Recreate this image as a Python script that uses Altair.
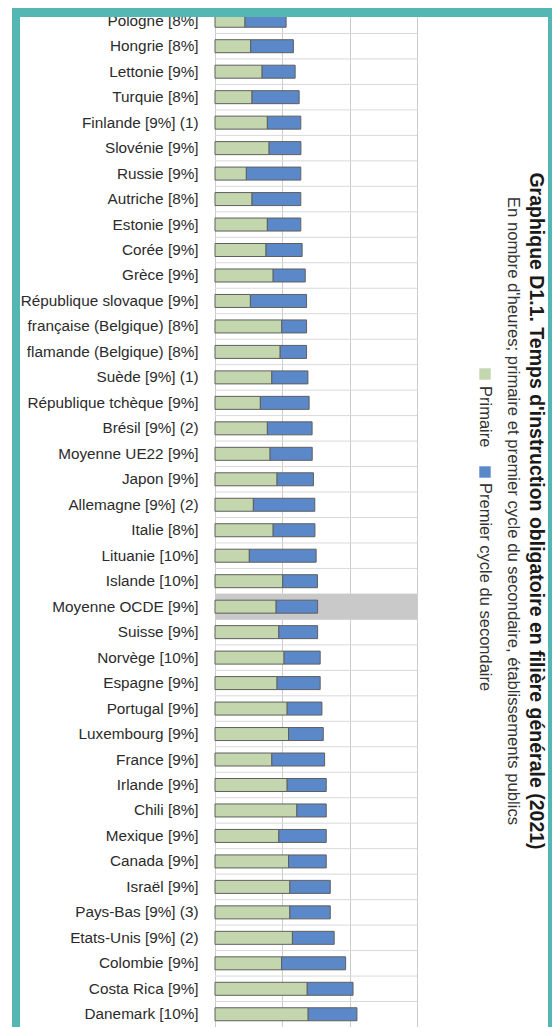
import altair as alt
import pandas as pd

pays = ["Pologne [8%]", "Hongrie [8%]", "Lettonie [9%]", "Turquie [8%]", "Finlande [9%] (1)",
        "Slovénie [9%]", "Russie [9%]", "Autriche [8%]", "Estonie [9%]", "Corée [9%]",
        "Grèce [9%]", "République slovaque [9%]", "française (Belgique) [8%]",
        "flamande (Belgique) [8%]", "Suède [9%] (1)", "République tchèque [9%]",
        "Brésil [9%] (2)", "Moyenne UE22 [9%]", "Japon [9%]", "Allemagne [9%] (2)",
        "Italie [8%]", "Lituanie [10%]", "Islande [10%]", "Moyenne OCDE [9%]", "Suisse [9%]",
        "Norvège [10%]", "Espagne [9%]", "Portugal [9%]", "Luxembourg [9%]", "France [9%]",
        "Irlande [9%]", "Chili [8%]", "Mexique [9%]", "Canada [9%]", "Israël [9%]",
        "Pays-Bas [9%] (3)", "Etats-Unis [9%] (2)", "Colombie [9%]", "Costa Rica [9%]",
        "Danemark [10%]"]

primaire = [2230, 2650, 3500, 2750, 3890, 4020, 2330, 2750, 3890, 3790,
            4320, 2630, 4960, 4840, 4220, 3370, 3890, 4090, 4610, 2850,
            4320, 2550, 5030, 4540, 4740, 5130, 4610, 5360, 5460, 4220,
            5360, 6080, 4740, 5460, 5560, 5560, 5750, 4940, 6850, 6920]

secondaire = [3050, 3170, 2450, 3500, 2480, 2360, 4040, 3620, 2480, 2680,
              2380, 4170, 1840, 1960, 2680, 3620, 3320, 3130, 2700, 4560,
              3100, 4960, 2580, 3080, 2880, 2680, 3200, 2580, 2580, 3920,
              2900, 2180, 3520, 2800, 3000, 3000, 3100, 4760, 3400, 3620]

niveaux = ["Primaire", "Premier cycle du secondaire"]
couleurs = ["#c3d6ae", "#5b88c8"]
x_ticks = [0, 5000, 10000, 15000]
highlight = ["Moyenne OCDE [9%]"]

TITLE = "Graphique D1.1. Temps d'instruction obligatoire en filière générale (2021)"
SUBTITLE = "En nombre d'heures; primaire et premier cycle du secondaire, établissements publics"

rows = []
for p, a, b in zip(pays, primaire, secondaire):
    rows.append({"pays": p, "niveau": niveaux[0], "heures": a, "ordre": 0})
    rows.append({"pays": p, "niveau": niveaux[1], "heures": b, "ordre": 1})
df = pd.DataFrame(rows)

W, H = 202, 1019
FONT = "Liberation Sans"
TEAL = "#55b7b3"

yscale = alt.Scale(paddingInner=0, paddingOuter=0)
xscale = alt.Scale(domain=[x_ticks[0], x_ticks[-1]], nice=False)

sep = alt.Chart(pd.DataFrame({"pays": pays})).mark_rule(color="#d9d9d9", strokeWidth=1).encode(
    y=alt.Y("pays:N", sort=pays, bandPosition=0, scale=yscale),
    x=alt.datum(x_ticks[0]),
    x2=alt.datum(x_ticks[-1]),
)

hl = alt.Chart(pd.DataFrame({"pays": highlight})).mark_rect(color="#c9c9c9").encode(
    y=alt.Y("pays:N", sort=pays, scale=yscale),
    x=alt.datum(x_ticks[0]),
    x2=alt.datum(x_ticks[-1]),
)

bars = alt.Chart(df).mark_bar(size=13, stroke="#5f5f5f", strokeWidth=1).encode(
    x=alt.X("heures:Q", stack="zero", scale=xscale,
            axis=alt.Axis(values=x_ticks, labels=False, ticks=False, domain=False,
                          title=None, grid=True, gridColor="#cccccc")),
    y=alt.Y("pays:N", sort=pays, scale=yscale,
            axis=alt.Axis(title=None, ticks=False, domain=False, grid=False,
                          labelPadding=17, labelFont=FONT, labelFontSize=15.3,
                          labelColor="#2b2b2b", labelLimit=400)),
    color=alt.Color("niveau:N", scale=alt.Scale(domain=niveaux, range=couleurs), legend=None),
    order=alt.Order("ordre:Q"),
)

one = pd.DataFrame({"k": [0]})

def vtext(txt, x, y, size, weight="normal", color="#333333", align="center"):
    return alt.Chart(pd.DataFrame({"t": [txt]})).mark_text(
        angle=90, align=align, baseline="middle", font=FONT, fontSize=size,
        fontWeight=weight, color=color, clip=False).encode(
        x=alt.value(x), y=alt.value(y), text="t:N")

LEG_X = 270

def leg_square(i, yc):
    return alt.Chart(one).mark_square(size=130, color=couleurs[i], opacity=1, clip=False).encode(
        x=alt.value(LEG_X), y=alt.value(yc))

legend = (leg_square(0, 366) + vtext(niveaux[0], LEG_X, 378, 16.5, align="left")
          + leg_square(1, 464) + vtext(niveaux[1], LEG_X, 475, 16.5, align="left"))

titles = (vtext(TITLE, 321, 503, 19.5, weight="bold", color="#1a1a1a")
          + vtext(SUBTITLE, 298, 503, 16.7, color="#333333"))

def band(x0, x1, y0, y1):
    return alt.Chart(one).mark_rect(color=TEAL, clip=False).encode(
        x=alt.value(x0), x2=alt.value(x1), y=alt.value(y0), y2=alt.value(y1))

frame = band(-203, 337, -1, 9) + band(-203, -195, -1, H) + band(333, 337, -1, H)

chart = alt.layer(sep, hl, bars, legend, titles, frame).properties(
    width=W, height=H,
    padding={"left": 207, "top": 0, "right": 135, "bottom": 0},
    autosize=alt.AutoSizeParams(type="none"),
    background="white",
).configure_view(strokeWidth=0)

chart.save("out.html", embed_options={"renderer": "svg", "actions": False})
